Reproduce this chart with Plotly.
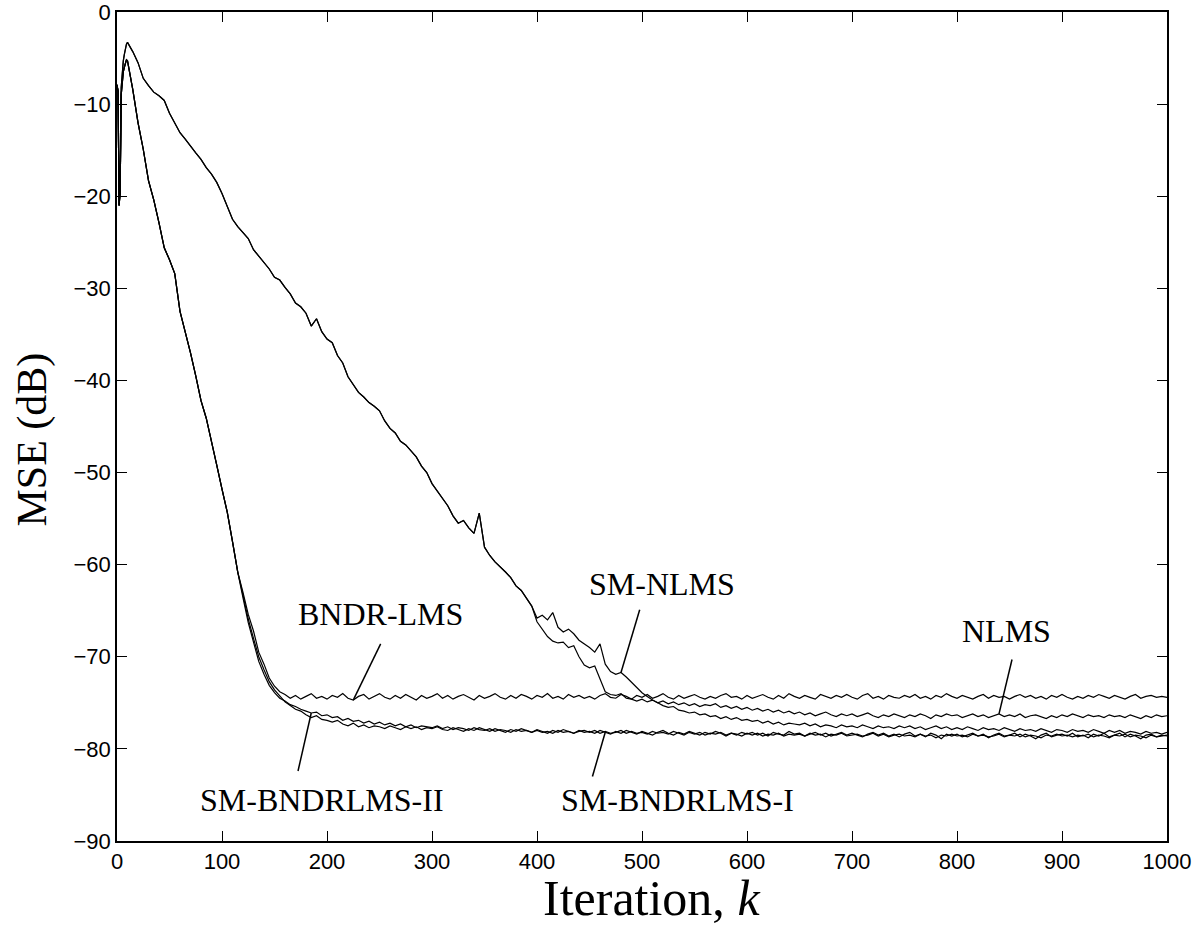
import plotly.graph_objects as go

# ---------------- data (MSE in dB) ----------------
k_head = list(range(0, 11))
k_slow_mid = list(range(15, 400, 5))
k_slow_tail = list(range(400, 1001, 5))
k_fast_mid = list(range(15, 100, 5))
k_fast_tail = list(range(100, 1001, 5))

slow_head = [-7.9, -8.6, -21.0, -19.5, -8.2, -6.1, -5.3, -4.6, -4.0, -3.5, -3.3]
fast_head = [-7.9, -8.6, -21.0, -19.5, -9.0, -7.2, -6.5, -6.0, -5.6, -5.2, -5.3]

slow_mid = [
    -4.3, -5.5, -7.2, -8.0, -8.7, -9.1, -9.6,
    -11.0, -12.0, -13.1, -13.8, -14.6, -15.3, -16.0, -16.9, -17.6, -18.5,
    -19.7, -21.1, -22.5, -23.3, -23.9, -24.6, -25.8, -26.5, -27.1, -27.9,
    -28.8, -29.1, -29.9, -30.6, -31.6, -32.0, -32.7, -34.1, -33.3, -34.7,
    -35.5, -35.9, -37.3, -38.1, -39.6, -40.4, -41.3, -41.8, -42.4, -42.8,
    -43.3, -44.4, -45.2, -45.7, -46.6, -47.0, -47.7, -48.3, -49.3, -50.0,
    -51.2, -52.0, -52.9, -53.6, -54.7, -55.5, -55.2, -56.0, -56.6, -54.4,
    -58.1, -59.0, -59.7, -60.2, -60.8, -61.4, -62.3, -62.8, -63.7, -64.5,
]

nlms_tail = [
    -66.2, -67.0, -67.8, -68.3, -68.5, -68.4, -69.0, -68.8, -70.0, -70.9,
    -71.2, -71.0, -72.3, -73.8, -74.1, -74.2, -74.0, -74.5, -74.6, -74.8,
    -74.6, -74.9, -74.7, -75.0, -74.8, -75.1, -74.9, -75.2, -75.0, -75.3,
    -75.1, -75.4, -75.2, -75.3, -75.1, -75.5, -75.3, -75.6, -75.4, -75.7,
    -75.5, -75.8, -75.6, -75.9, -75.7, -76.0, -75.8, -76.1, -75.9, -76.2,
    -76.0, -76.3, -76.1, -76.4, -76.2, -76.0, -76.3, -76.5, -76.2, -76.4,
    -76.2, -76.5, -76.3, -76.1, -76.4, -76.6, -76.3, -76.5, -76.2, -76.4,
    -76.6, -76.3, -76.5, -76.2, -76.4, -76.7, -76.3, -76.5, -76.2, -76.4,
    -76.3, -76.6, -76.4, -76.2, -76.5, -76.3, -76.6, -76.4, -76.2, -76.5,
    -76.3, -76.5, -76.2, -76.6, -76.4, -76.3, -76.5, -76.7, -76.4, -76.6,
    -76.3, -76.5, -76.2, -76.4, -76.6, -76.3, -76.5, -76.4, -76.6, -76.3,
    -76.5, -76.4, -76.6, -76.3, -76.5, -76.7, -76.4, -76.6, -76.3, -76.5,
    -76.4,
]

smnlms_tail = [
    -65.8, -65.5, -66.0, -65.2, -66.8, -67.3, -67.0, -67.5, -68.2, -68.6,
    -69.0, -69.5, -68.6, -70.8, -71.6, -71.9, -71.7, -72.2, -72.8, -73.4,
    -73.9, -74.3, -74.7, -75.0, -75.3, -75.5, -75.4, -75.8, -75.9, -76.1,
    -76.0, -76.3, -76.2, -76.5, -76.4, -76.7, -76.5, -76.8, -76.6, -76.9,
    -76.8, -77.0, -76.9, -77.2, -77.0, -77.3, -77.1, -77.4, -77.2, -77.3,
    -77.4, -77.2, -77.5, -77.3, -77.6, -77.4, -77.5, -77.7, -77.4, -77.6,
    -77.5, -77.7, -77.4, -77.6, -77.8, -77.5, -77.7, -77.6, -77.8, -77.5,
    -77.7, -77.5, -77.8, -77.6, -77.9, -77.7, -77.5, -77.8, -77.6, -77.9,
    -77.7, -77.9, -77.6, -77.8, -78.0, -77.7, -77.9, -77.8, -78.0, -77.7,
    -77.9, -78.1, -77.8, -78.0, -77.9, -78.1, -77.8, -78.0, -78.2, -77.9,
    -78.0, -78.2, -77.9, -78.1, -78.0, -78.2, -77.9, -78.1, -78.3, -78.0,
    -78.2, -78.0, -78.3, -78.1, -78.2, -78.4, -78.1, -78.3, -78.2, -78.4,
    -78.2,
]

fast_mid = [
    -8.4, -12.0, -14.9, -18.3, -20.4, -22.9, -25.6,
    -26.9, -28.4, -32.5, -34.6, -37.0, -39.5, -42.2, -44.1, -46.5, -49.2,
]

bndr_tail = [
    -51.8, -54.3, -57.5, -60.8, -63.0, -65.4, -67.2, -69.5, -70.8, -72.3,
    -73.2, -73.8, -74.1, -74.5, -74.2, -74.6, -74.3, -74.0, -74.5, -74.3,
    -74.6, -74.2, -74.4, -74.0, -74.5, -74.7, -74.3, -74.1, -74.6, -74.3,
    -74.0, -74.4, -74.6, -74.2, -74.5, -74.1, -74.4, -74.7, -74.2, -74.5,
    -74.3, -74.0, -74.5, -74.2, -74.6, -74.3, -74.1, -74.4, -74.7, -74.2,
    -74.5, -74.3, -74.0, -74.4, -74.6, -74.2, -74.5, -74.1, -74.3, -74.6,
    -74.2, -74.4, -74.0, -74.5, -74.3, -74.6, -74.1, -74.4, -74.2, -74.5,
    -74.3, -74.6, -74.2, -74.0, -74.4, -74.5, -74.1, -74.3, -74.6, -74.2,
    -74.4, -74.1, -74.5, -74.3, -74.0, -74.4, -74.6, -74.2, -74.5, -74.3,
    -74.1, -74.4, -74.6, -74.3, -74.5, -74.2, -74.0, -74.4, -74.3, -74.6,
    -74.2, -74.5, -74.3, -74.1, -74.4, -74.6, -74.2, -74.5, -74.0, -74.3,
    -74.5, -74.2, -74.4, -74.6, -74.1, -74.3, -74.5, -74.2, -74.4, -74.1,
    -74.4, -74.6, -74.2, -74.0, -74.5, -74.3, -74.6, -74.2, -74.4, -74.5,
    -74.2, -74.4, -74.1, -74.5, -74.3, -74.6, -74.2, -74.4, -74.0, -74.3,
    -74.5, -74.2, -74.4, -74.6, -74.3, -74.1, -74.5, -74.2, -74.4, -74.3,
    -74.6, -74.3, -74.1, -74.4, -74.2, -74.5, -74.3, -74.6, -74.2, -74.4,
    -74.1, -74.4, -74.6, -74.3, -74.5, -74.2, -74.4, -74.1, -74.3, -74.5,
    -74.2, -74.4, -74.6, -74.3, -74.1, -74.5, -74.3, -74.2, -74.4, -74.3,
    -74.4,
]

smbndr1_tail = [
    -51.8, -54.3, -57.5, -60.8, -63.3, -65.9, -68.0, -70.0, -71.4, -72.7,
    -73.6, -74.3, -74.9, -75.3, -75.7, -75.9, -76.3, -76.6, -76.4, -76.8,
    -76.9, -77.1, -76.9, -77.3, -77.5, -77.2, -77.6, -77.4, -77.7, -77.5,
    -77.6, -77.8, -77.5, -77.7, -77.9, -77.6, -77.8, -77.6, -77.9, -77.7,
    -77.8, -77.6, -77.9, -78.0, -77.7, -77.9, -78.1, -77.8, -78.0, -77.7,
    -77.9, -78.1, -77.8, -78.0, -78.2, -77.9, -78.1, -77.8, -78.0, -78.2,
    -77.9, -78.1, -78.3, -78.0, -78.2, -77.9, -78.1, -78.3, -78.0, -78.2,
    -78.1, -78.3, -78.0, -78.2, -78.4, -78.1, -78.3, -78.0, -78.2, -78.4,
    -78.1, -78.3, -78.5, -78.2, -78.0, -78.3, -78.5, -78.2, -78.4, -78.1,
    -78.3, -78.5, -78.2, -78.4, -78.1, -78.3, -78.6, -78.3, -78.5, -78.2,
    -78.4, -78.2, -78.5, -78.3, -78.6, -78.2, -78.4, -78.5, -78.1, -78.4,
    -78.3, -78.6, -78.4, -78.2, -78.5, -78.3, -78.6, -78.4, -78.2, -78.5,
    -78.3, -78.5, -78.7, -78.4, -78.2, -78.5, -78.3, -78.6, -78.4, -78.7,
    -78.4, -78.2, -78.6, -78.4, -78.7, -78.3, -78.5, -78.9, -78.4, -78.6,
    -78.4, -78.7, -78.5, -78.3, -78.6, -78.4, -78.8, -78.5, -78.3, -78.6,
    -78.5, -78.3, -78.7, -78.4, -78.6, -78.9, -78.5, -78.3, -78.7, -78.5,
    -78.4, -78.6, -78.3, -78.7, -78.5, -78.8, -78.4, -78.6, -78.3, -78.7,
    -78.5, -78.3, -78.7, -78.4, -78.6, -78.9, -78.5, -78.4, -78.7, -78.5,
    -78.6,
]

smbndr2_tail = [
    -51.8, -54.3, -57.5, -60.8, -63.6, -66.3, -68.4, -70.5, -71.9, -73.1,
    -73.9, -74.5, -74.8, -75.2, -75.4, -75.7, -75.9, -76.1, -76.0, -76.4,
    -76.3, -76.6, -76.5, -76.9, -76.7, -77.0, -76.9, -77.2, -77.0, -77.3,
    -77.1, -77.4, -77.2, -77.5, -77.3, -77.6, -77.4, -77.7, -77.5, -77.6,
    -77.7, -77.5, -77.8, -77.6, -77.9, -77.7, -77.8, -78.0, -77.7, -77.9,
    -78.0, -77.8, -78.1, -77.9, -78.0, -78.2, -77.9, -78.1, -78.0, -78.2,
    -78.0, -78.2, -78.1, -78.3, -78.0, -78.2, -78.1, -78.3, -78.1, -78.0,
    -78.2, -78.0, -78.3, -78.1, -78.3, -78.2, -78.0, -78.3, -78.1, -78.3,
    -78.2, -78.4, -78.1, -78.3, -78.2, -78.4, -78.1, -78.3, -78.5, -78.2,
    -78.4, -78.2, -78.5, -78.3, -78.4, -78.2, -78.5, -78.3, -78.4, -78.6,
    -78.3, -78.5, -78.3, -78.6, -78.4, -78.5, -78.3, -78.6, -78.4, -78.5,
    -78.4, -78.6, -78.3, -78.5, -78.4, -78.7, -78.4, -78.5, -78.3, -78.6,
    -78.5, -78.4, -78.6, -78.5, -78.3, -78.6, -78.4, -78.7, -78.5, -78.4,
    -78.6, -78.5, -78.7, -78.4, -78.6, -78.5, -78.8, -78.5, -78.6, -78.4,
    -78.6, -78.5, -78.7, -78.4, -78.6, -78.5, -78.7, -78.6, -78.4, -78.7,
    -78.5, -78.6, -78.4, -78.7, -78.5, -78.6, -78.8, -78.5, -78.6, -78.4,
    -78.6, -78.5, -78.7, -78.5, -78.6, -78.4, -78.7, -78.5, -78.6, -78.8,
    -78.5, -78.6, -78.4, -78.7, -78.5, -78.6, -78.8, -78.5, -78.7, -78.6,
    -78.5,
]

# labels: (text, label k, label dB, pointer start k, pointer start dB, tip k)
labels = [
    ("BNDR-LMS", 250.7, -65.4, 251.1, -68.6, 225),
    ("SM-NLMS", 519.2, -62.1, 497.8, -64.9, 480),
    ("NLMS", 847.0, -67.2, 852.4, -70.3, 840),
    ("SM-BNDRLMS-II", 195.4, -85.5, 172.4, -82.4, 185),
    ("SM-BNDRLMS-I", 534.0, -85.5, 452.8, -83.0, 465),
]

x_ticks = list(range(0, 1001, 100))
y_ticks = list(range(-90, 1, 10))

# ---------------- assemble series ----------------
assert len(slow_mid) == len(k_slow_mid)
assert len(fast_mid) == len(k_fast_mid)
for t in (nlms_tail, smnlms_tail):
    assert len(t) == len(k_slow_tail), len(t)
for t in (bndr_tail, smbndr1_tail, smbndr2_tail):
    assert len(t) == len(k_fast_tail), len(t)

k_slow = k_head + k_slow_mid + k_slow_tail
k_fast = k_head + k_fast_mid + k_fast_tail
series = {
    "NLMS": (k_slow, slow_head + slow_mid + nlms_tail),
    "SM-NLMS": (k_slow, slow_head + slow_mid + smnlms_tail),
    "BNDR-LMS": (k_fast, fast_head + fast_mid + bndr_tail),
    "SM-BNDRLMS-I": (k_fast, fast_head + fast_mid + smbndr1_tail),
    "SM-BNDRLMS-II": (k_fast, fast_head + fast_mid + smbndr2_tail),
}

fig = go.Figure()
for name, (kx, vy) in series.items():
    fig.add_trace(go.Scatter(x=kx, y=vy, mode="lines", name=name,
                             line=dict(color="black", width=1.2)))

SERIF = "Liberation Serif, Times New Roman, serif"
SANS = "Liberation Sans, Arial, Helvetica, sans-serif"

for text, lx, ly, sx, sy, tk in labels:
    kx, vy = series[text]
    ty = vy[kx.index(tk)]
    fig.add_shape(type="line", xref="x", yref="y", x0=sx, y0=sy, x1=tk, y1=ty,
                  line=dict(color="black", width=1.5))
    fig.add_annotation(x=lx, y=ly, xref="x", yref="y", text=text, showarrow=False,
                       font=dict(family=SERIF, size=32, color="black"))

# axis titles
fig.add_annotation(x=0.5086, y=-0.0685, xref="paper", yref="paper",
                   xanchor="center", yanchor="middle", showarrow=False,
                   text="Iteration, <i>k</i>",
                   font=dict(family=SERIF, size=50, color="black"))
fig.add_annotation(x=-0.0814, y=0.4837, xref="paper", yref="paper",
                   xanchor="center", yanchor="middle", showarrow=False,
                   textangle=-90, text="MSE (dB)",
                   font=dict(family=SERIF, size=42, color="black"))

axis_common = dict(
    showline=True, linecolor="black", linewidth=1.5, mirror="ticks",
    ticks="inside", ticklen=10, tickwidth=1.2, tickcolor="black",
    showgrid=False, zeroline=False, automargin=False,
    ticklabeloverflow="allow",
    tickfont=dict(family=SANS, size=22, color="black"),
)

fig.update_layout(
    width=1197, height=925,
    margin=dict(l=117, r=30, t=12, b=84),
    paper_bgcolor="white", plot_bgcolor="white",
    showlegend=False,
    xaxis=dict(range=[0, 1000], tickvals=x_ticks, **axis_common),
    yaxis=dict(range=[-90, 0], tickvals=y_ticks, **axis_common),
)

fig.write_html("out.html")
